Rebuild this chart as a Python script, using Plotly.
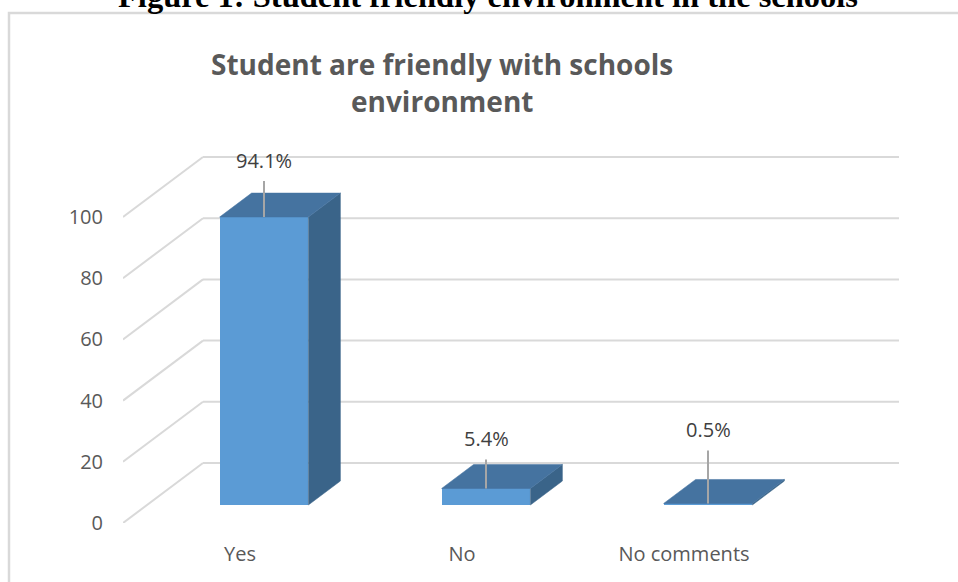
import plotly.graph_objects as go

# ---------------- data ----------------
categories = ["Yes", "No", "No comments"]
values = [94.1, 5.4, 0.5]
value_labels = ["94.1%", "5.4%", "0.5%"]
y_ticks = [0, 20, 40, 60, 80, 100]

caption = "Figure 1: Student friendly environment in the schools"
title_lines = ["Student are friendly with schools", "environment"]

# ---------------- geometry / style ----------------
W, H = 958, 582
PX_PER_CAT = 222.0          # horizontal pixels per category step
PX_PER_VAL = 3.06           # vertical pixels per value unit
PLOT_L, PLOT_T, PLOT_B = 123, 130, 523
CAT0_PX = 240               # pixel of first category on front plane

x_min = (PLOT_L - CAT0_PX) / PX_PER_CAT
x_max = x_min + (W - PLOT_L) / PX_PER_CAT
y_max = (PLOT_B - PLOT_T) / PX_PER_VAL

DEPTH_DX = 80 / PX_PER_CAT   # shift (category units) for full depth
DEPTH_DY = 60 / PX_PER_VAL   # shift (value units) for full depth
WALL_LEFT = x_min
WALL_RIGHT = (899 - 80 - CAT0_PX) / PX_PER_CAT
BAR_HALF = 0.2
D_FRONT, D_BACK = 0.3, 0.7
LABEL_LIFT = [57, 50, 74]    # px between bar top and its data label

FRONT_C = "#5B9BD5"
TOP_C = "#4573A0"
SIDE_C = "#3A6489"
GRID_C = "#D9D9D9"
TEXT_C = "#595959"


def proj(x, v, d):
    return (x + DEPTH_DX * d, v + DEPTH_DY * d)


def px_to_paper(px, py):
    return ((px - PLOT_L) / (W - PLOT_L), (PLOT_B - py) / (PLOT_B - PLOT_T))


fig = go.Figure()
shapes = []

# walls: back wall gridlines + left wall diagonals
for v in y_ticks:
    x0, y0 = proj(WALL_LEFT, v, 0)
    x1, y1 = proj(WALL_LEFT, v, 1)
    x2, y2 = proj(WALL_RIGHT, v, 1)
    shapes.append(dict(type="line", xref="x", yref="y", x0=x0, y0=y0, x1=x1, y1=y1,
                       line=dict(color=GRID_C, width=2), layer="below"))
    shapes.append(dict(type="line", xref="x", yref="y", x0=x1, y0=y1, x1=x2, y1=y2,
                       line=dict(color=GRID_C, width=2), layer="below"))

# outer chart frame
fx0, fy0 = px_to_paper(9, 13)
fx1, fy1 = px_to_paper(975, 600)
shapes.append(dict(type="rect", xref="paper", yref="paper", x0=fx0, y0=fy1, x1=fx1, y1=fy0,
                   line=dict(color=GRID_C, width=2.5), fillcolor="rgba(0,0,0,0)", layer="below"))

# front faces as bars
front_x = [proj(i, 0, D_FRONT)[0] for i in range(len(categories))]
base = DEPTH_DY * D_FRONT
fig.add_trace(go.Bar(x=front_x, y=values, base=[base] * len(values), width=2 * BAR_HALF,
                     marker=dict(color=FRONT_C, line=dict(width=0)), hoverinfo="skip",
                     showlegend=False))

# top & side faces
for i, v in enumerate(values):
    xl, xr = i - BAR_HALF, i + BAR_HALF
    top = [proj(xl, v, D_FRONT), proj(xr, v, D_FRONT), proj(xr, v, D_BACK), proj(xl, v, D_BACK)]
    side = [proj(xr, 0, D_FRONT), proj(xr, 0, D_BACK), proj(xr, v, D_BACK), proj(xr, v, D_FRONT)]
    for poly, col in ((side, SIDE_C), (top, TOP_C)):
        xs = [p[0] for p in poly] + [poly[0][0]]
        ys = [p[1] for p in poly] + [poly[0][1]]
        fig.add_trace(go.Scatter(x=xs, y=ys, mode="lines", fill="toself", fillcolor=col,
                                 line=dict(color=col, width=0.5), hoverinfo="skip",
                                 showlegend=False))

annotations = []
# data labels with leader lines
for i, (v, lab) in enumerate(zip(values, value_labels)):
    annotations.append(dict(x=front_x[i], y=v + base, xref="x", yref="y", text=lab,
                            showarrow=True, arrowhead=0, arrowwidth=2, arrowcolor="#A6A6A6",
                            ax=0, ay=-LABEL_LIFT[i], startstandoff=6,
                            font=dict(family="Open Sans", size=20, color="#404040")))

# caption cut off at top
cx, cy = px_to_paper(488, -4)
annotations.append(dict(x=cx, y=cy, xref="paper", yref="paper", text="<b>" + caption + "</b>",
                        showarrow=False, xanchor="center", yanchor="middle",
                        font=dict(family="Liberation Serif", size=32.5, color="#000000")))

# chart title (two lines)
for line_txt, py in zip(title_lines, [64, 101]):
    tx, ty = px_to_paper(441.5, py)
    annotations.append(dict(x=tx, y=ty, xref="paper", yref="paper", text="<b>" + line_txt + "</b>",
                            showarrow=False, xanchor="center", yanchor="middle",
                            font=dict(family="Open Sans", size=28, color=TEXT_C)))

fig.update_layout(
    width=W, height=H,
    margin=dict(l=PLOT_L, r=0, t=PLOT_T, b=H - PLOT_B, autoexpand=False),
    paper_bgcolor="white", plot_bgcolor="white",
    xaxis=dict(range=[x_min, x_max], tickvals=list(range(len(categories))), ticktext=categories,
               showgrid=False, zeroline=False, showline=False, ticks="",
               tickfont=dict(family="Open Sans", size=20, color=TEXT_C),
               ticklabelstandoff=17, automargin=False, fixedrange=True),
    yaxis=dict(range=[0, y_max], tickvals=y_ticks, ticktext=[str(t) for t in y_ticks],
               showgrid=False, zeroline=False, showline=False, ticks="",
               tickfont=dict(family="Open Sans", size=20, color=TEXT_C),
               ticklabelstandoff=19, automargin=False, fixedrange=True),
    shapes=shapes, annotations=annotations, bargap=0, showlegend=False,
)

fig.write_html("out.html", config={"displayModeBar": False},
               post_script="document.body.style.margin='0';")
